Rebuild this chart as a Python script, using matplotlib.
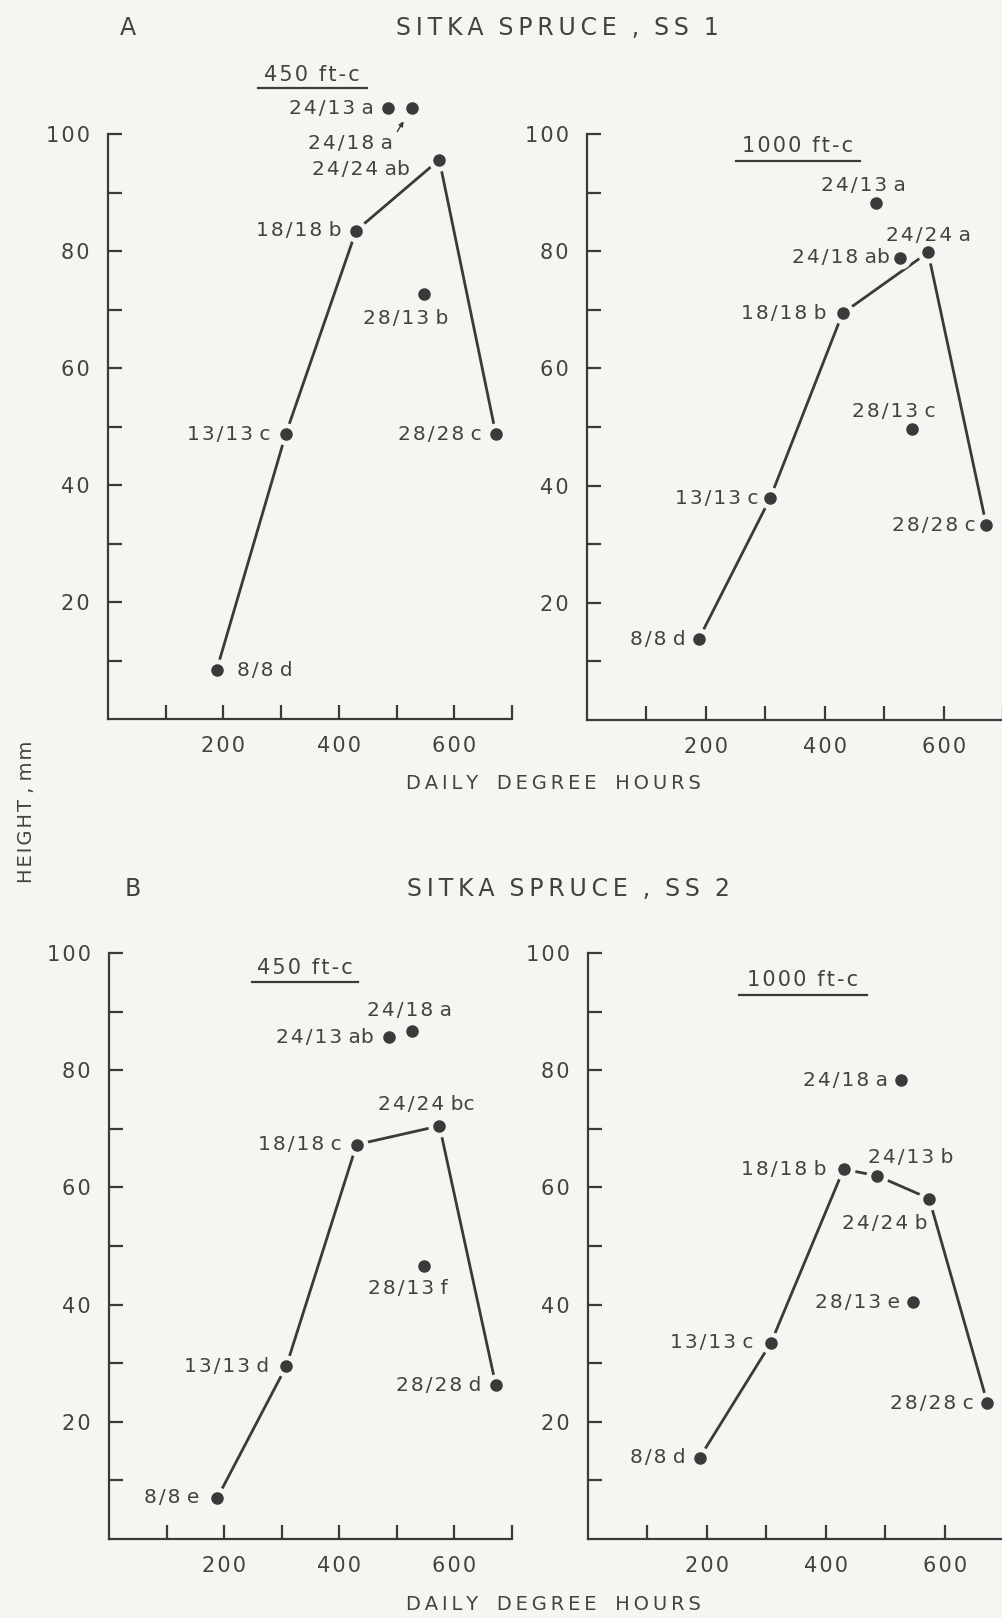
import numpy as np
import matplotlib
matplotlib.use("Agg")
import matplotlib.pyplot as plt

# treatments (day/night temperature) and their daily degree hours
treatments = ['8/8', '13/13', '18/18', '24/24', '28/28', '24/13', '24/18', '28/13']
deg_hours = [188, 308, 430, 574, 672, 486, 526, 547]

# height, mm
ss1_450_height = [8.3, 48.7, 83.5, 95.6, 48.7, 104.4, 104.4, 72.6]
ss1_450_letters = ['d', 'c', 'b', 'ab', 'c', 'a', 'a', 'b']
ss1_1000_height = [13.8, 37.8, 69.4, 79.8, 33.2, 88.2, 78.9, 49.6]
ss1_1000_letters = ['d', 'c', 'b', 'a', 'c', 'a', 'ab', 'c']
ss2_450_height = [7.0, 29.5, 67.3, 70.5, 26.2, 85.6, 86.7, 46.6]
ss2_450_letters = ['e', 'd', 'c', 'bc', 'd', 'ab', 'a', 'f']
ss2_1000_height = [13.9, 33.5, 63.1, 58.1, 23.2, 62.0, 78.3, 40.4]
ss2_1000_letters = ['d', 'c', 'b', 'b', 'c', 'b', 'a', 'e']

line_main = ['8/8', '13/13', '18/18', '24/24', '28/28']
line_ss2_1000 = ['8/8', '13/13', '18/18', '24/13', '24/24', '28/28']

xtick_labels = ['', '200', '', '400', '', '600', '']
ytick_labels = ['', '20', '', '40', '', '60', '', '80', '', '100']

W, H = 1003, 1618
BG = '#f5f5f2'
INK = '#3a3a3a'
TXT = '#424242'

plt.rcParams['font.family'] = ['DejaVu Sans']

fig = plt.figure(figsize=(W / 100, H / 100), dpi=100, facecolor=BG)


def sp(s, gap='\u200a'):
    # open up the letter spacing a bit, like the old stencil lettering
    return gap.join(s)


def fx(px):
    return px / W


def fy(py):
    return 1 - py / H


def make_axes(x0, x1, y0, y1):
    ax = fig.add_axes([fx(x0), fy(y1), (x1 - x0) / W, (y1 - y0) / H])
    ax.patch.set_alpha(0)
    ax.set_xlim(0, 700)
    ax.set_ylim(0, 100)
    for s in ['top', 'right']:
        ax.spines[s].set_visible(False)
    for s in ['left', 'bottom']:
        ax.spines[s].set_linewidth(1.6)
        ax.spines[s].set_color(INK)
    ax.set_xticks(np.arange(100, 701, 100))
    ax.set_xticklabels([sp(t) for t in xtick_labels])
    ax.set_yticks(np.arange(10, 101, 10))
    ax.set_yticklabels([sp(t) for t in ytick_labels])
    ax.tick_params(direction='in', length=10, width=1.6, color=INK,
                   labelcolor=TXT, labelsize=15)
    ax.tick_params(axis='x', pad=12)
    ax.tick_params(axis='y', pad=13)
    return ax


def draw_panel(ax, heights, letters, line, offsets):
    hmap = dict(zip(treatments, heights))
    xmap = dict(zip(treatments, deg_hours))
    lx = [xmap[t] for t in line]
    ly = [hmap[t] for t in line]
    ax.plot(lx, ly, color=INK, lw=2.0, zorder=1, clip_on=False)
    ax.plot(deg_hours, heights, 'o', ms=15, color=BG, zorder=2, clip_on=False)
    ax.plot(deg_hours, heights, 'o', ms=8, color=INK, zorder=3, clip_on=False)
    for t, x, y, let, (dx, dy, ha) in zip(treatments, deg_hours, heights, letters, offsets):
        ax.annotate(sp(t) + ' ' + let, (x, y), xytext=(dx * 0.72, -dy * 0.72),
                    textcoords='offset points', ha=ha, va='center',
                    fontsize=14.5, color=TXT, annotation_clip=False)


def light_label(text, cx, cy, x0, x1, uy):
    fig.text(fx(cx), fy(cy), sp(text), ha='center', va='center', fontsize=15, color=TXT)
    fig.add_artist(plt.Line2D([fx(x0), fx(x1)], [fy(uy), fy(uy)], color=INK, lw=1.6))


# label offsets in pixels (right, down), same order as treatments
off_ss1_450 = [(20, 0, 'left'), (-15, 0, 'right'), (-15, 0, 'right'), (-29, 10, 'right'),
               (-14, 0, 'right'), (-15, 0, 'right'), (-19, 35, 'right'), (-18, 24, 'center')]
off_ss1_1000 = [(-13, 0, 'right'), (-12, 0, 'right'), (-16, 0, 'right'), (0, -17, 'center'),
                (-11, 0, 'right'), (-12, -18, 'center'), (-10, 0, 'right'), (-18, -18, 'center')]
off_ss2_450 = [(-18, 0, 'right'), (-17, 0, 'right'), (-15, 0, 'right'), (-13, -21, 'center'),
               (-15, 0, 'right'), (-15, 0, 'right'), (-2, -20, 'center'), (-16, 23, 'center')]
off_ss2_1000 = [(-14, 0, 'right'), (-18, 0, 'right'), (-17, 0, 'right'), (-2, 25, 'right'),
                (-14, 0, 'right'), (-9, -18, 'left'), (-13, 0, 'right'), (-13, 0, 'right')]

ax1 = make_axes(108, 512, 134, 719)
draw_panel(ax1, ss1_450_height, ss1_450_letters, line_main, off_ss1_450)
# little arrow for 24/18 a
ax1.annotate('', (deg_hours[6], ss1_450_height[6]), xytext=(-10.3, -16.8),
             textcoords='offset points', annotation_clip=False,
             arrowprops=dict(arrowstyle='-|>', color=INK, lw=1.0, shrinkA=0, shrinkB=11,
                             mutation_scale=7))

ax2 = make_axes(587, 1003, 134, 720)
draw_panel(ax2, ss1_1000_height, ss1_1000_letters, line_main, off_ss1_1000)

ax3 = make_axes(109, 512, 953, 1539)
draw_panel(ax3, ss2_450_height, ss2_450_letters, line_main, off_ss2_450)

ax4 = make_axes(588, 1004, 953, 1539)
draw_panel(ax4, ss2_1000_height, ss2_1000_letters, line_ss2_1000, off_ss2_1000)

light_label('450 ft-c', 312, 75, 258, 367, 88)
light_label('1000 ft-c', 798, 146, 736, 860, 161)
light_label('450 ft-c', 305, 968, 252, 358, 982)
light_label('1000 ft-c', 803, 980, 739, 867, 995)

title_gap = '\u2009'
fig.text(fx(128), fy(28), 'A', ha='center', va='center', fontsize=17, color=TXT)
fig.text(fx(557), fy(28), '  '.join(sp(w, title_gap) for w in ['SITKA', 'SPRUCE', ',', 'SS', '1']),
         ha='center', va='center', fontsize=17, color=TXT)
fig.text(fx(133), fy(889), 'B', ha='center', va='center', fontsize=17, color=TXT)
fig.text(fx(568), fy(889), '  '.join(sp(w, title_gap) for w in ['SITKA', 'SPRUCE', ',', 'SS', '2']),
         ha='center', va='center', fontsize=17, color=TXT)
xlab = '   '.join(sp(w, title_gap) for w in ['DAILY', 'DEGREE', 'HOURS'])
fig.text(fx(553), fy(783), xlab, ha='center', va='center', fontsize=14, color=TXT)
fig.text(fx(553), fy(1605), xlab, ha='center', va='center', fontsize=14, color=TXT)
fig.text(fx(27), fy(812), sp('HEIGHT') + ' , ' + sp('mm'), ha='center', va='center',
         rotation=90, fontsize=14, color=TXT)

fig.savefig('out.png', dpi=100, facecolor=BG)
